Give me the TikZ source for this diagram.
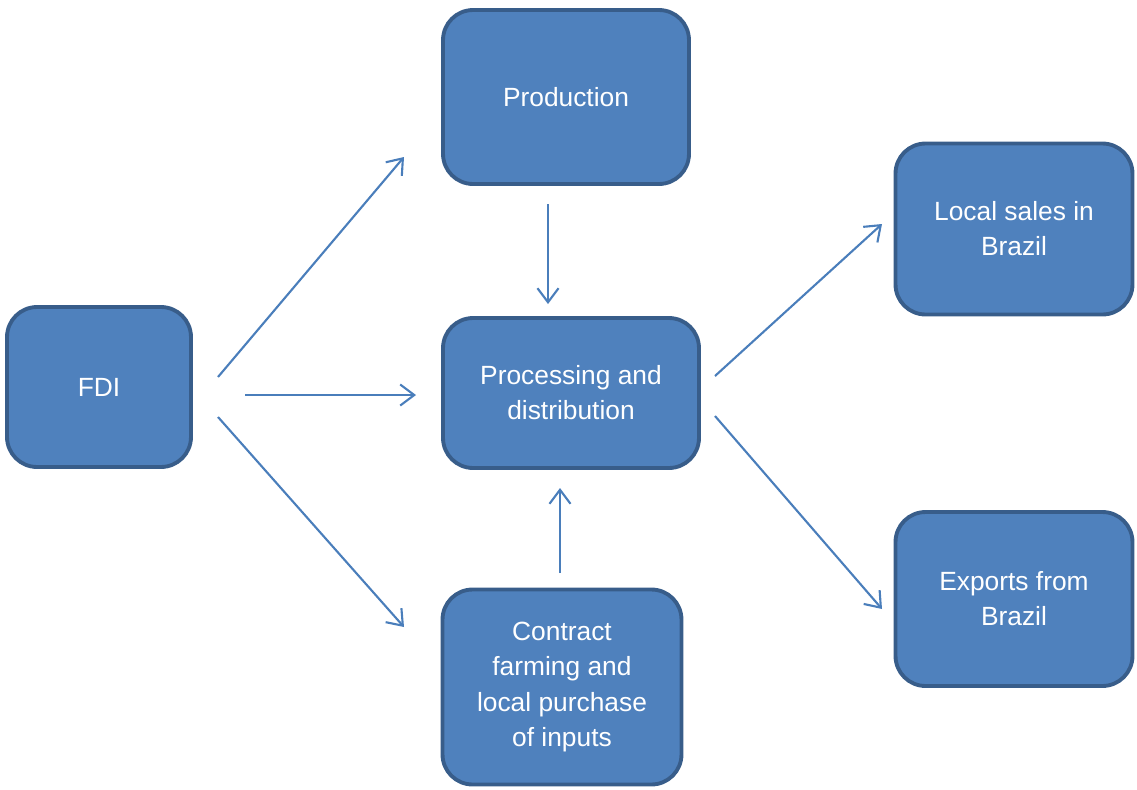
\documentclass[tikz,border=0pt]{standalone}
\usepackage{fontspec}
\setmainfont{Liberation Sans}
\usetikzlibrary{arrows.meta}
\definecolor{boxfill}{HTML}{4F81BD}
\definecolor{boxline}{HTML}{385D8A}
\definecolor{arrowcol}{HTML}{4A7EBB}

\begin{document}
\begin{tikzpicture}[x=0.02cm,y=-0.02cm,
    box/.style={draw=boxline,line width=2.2pt,fill=boxfill,rounded corners=0.6cm,
      text=white,align=center,inner sep=0pt,font=\fontsize{15}{20}\selectfont},
    flow/.style={draw=arrowcol,line width=1.2pt,-{Straight Barb[length=8pt,width=12pt,line width=1.2pt]}}]
      \useasboundingbox (0,0) rectangle (1137,789);
      \node[box,minimum width=3.68cm,minimum height=3.20cm](fdi) at (99,387){FDI};
      \node[box,minimum width=4.92cm,minimum height=3.48cm](prod) at (566,97){Production};
      \node[box,minimum width=5.12cm,minimum height=3.00cm](proc) at (571,393){Processing and\\distribution};
      \node[box,minimum width=4.78cm,minimum height=3.90cm](contract) at (562,687){Contract\\farming and\\local purchase\\of inputs};
      \node[box,minimum width=4.74cm,minimum height=3.42cm](local) at (1014,229){Local sales in\\Brazil};
      \node[box,minimum width=4.74cm,minimum height=3.48cm](exports) at (1014,599){Exports from\\Brazil};
      % arrow end points
      \coordinate (fdi-up) at (218,377);
      \coordinate (fdi-mid) at (245,395);
      \coordinate (fdi-down) at (218,417);
      \coordinate (prod-in) at (404,157);
      \coordinate (proc-in) at (416,395);
      \coordinate (contract-in) at (404,627);
      \coordinate (prod-out) at (548,204);
      \coordinate (proc-top) at (548,304);
      \coordinate (contract-out) at (560,573);
      \coordinate (proc-bottom) at (560,488);
      \coordinate (proc-up) at (715,376);
      \coordinate (proc-down) at (715,416);
      \coordinate (local-in) at (882,224);
      \coordinate (exports-in) at (882,609);
      \draw[flow] (fdi-up) -- (prod-in);
      \draw[flow] (fdi-mid) -- (proc-in);
      \draw[flow] (fdi-down) -- (contract-in);
      \draw[flow] (prod-out) -- (proc-top);
      \draw[flow] (contract-out) -- (proc-bottom);
      \draw[flow] (proc-up) -- (local-in);
      \draw[flow] (proc-down) -- (exports-in);
    \end{tikzpicture}
\end{document}
